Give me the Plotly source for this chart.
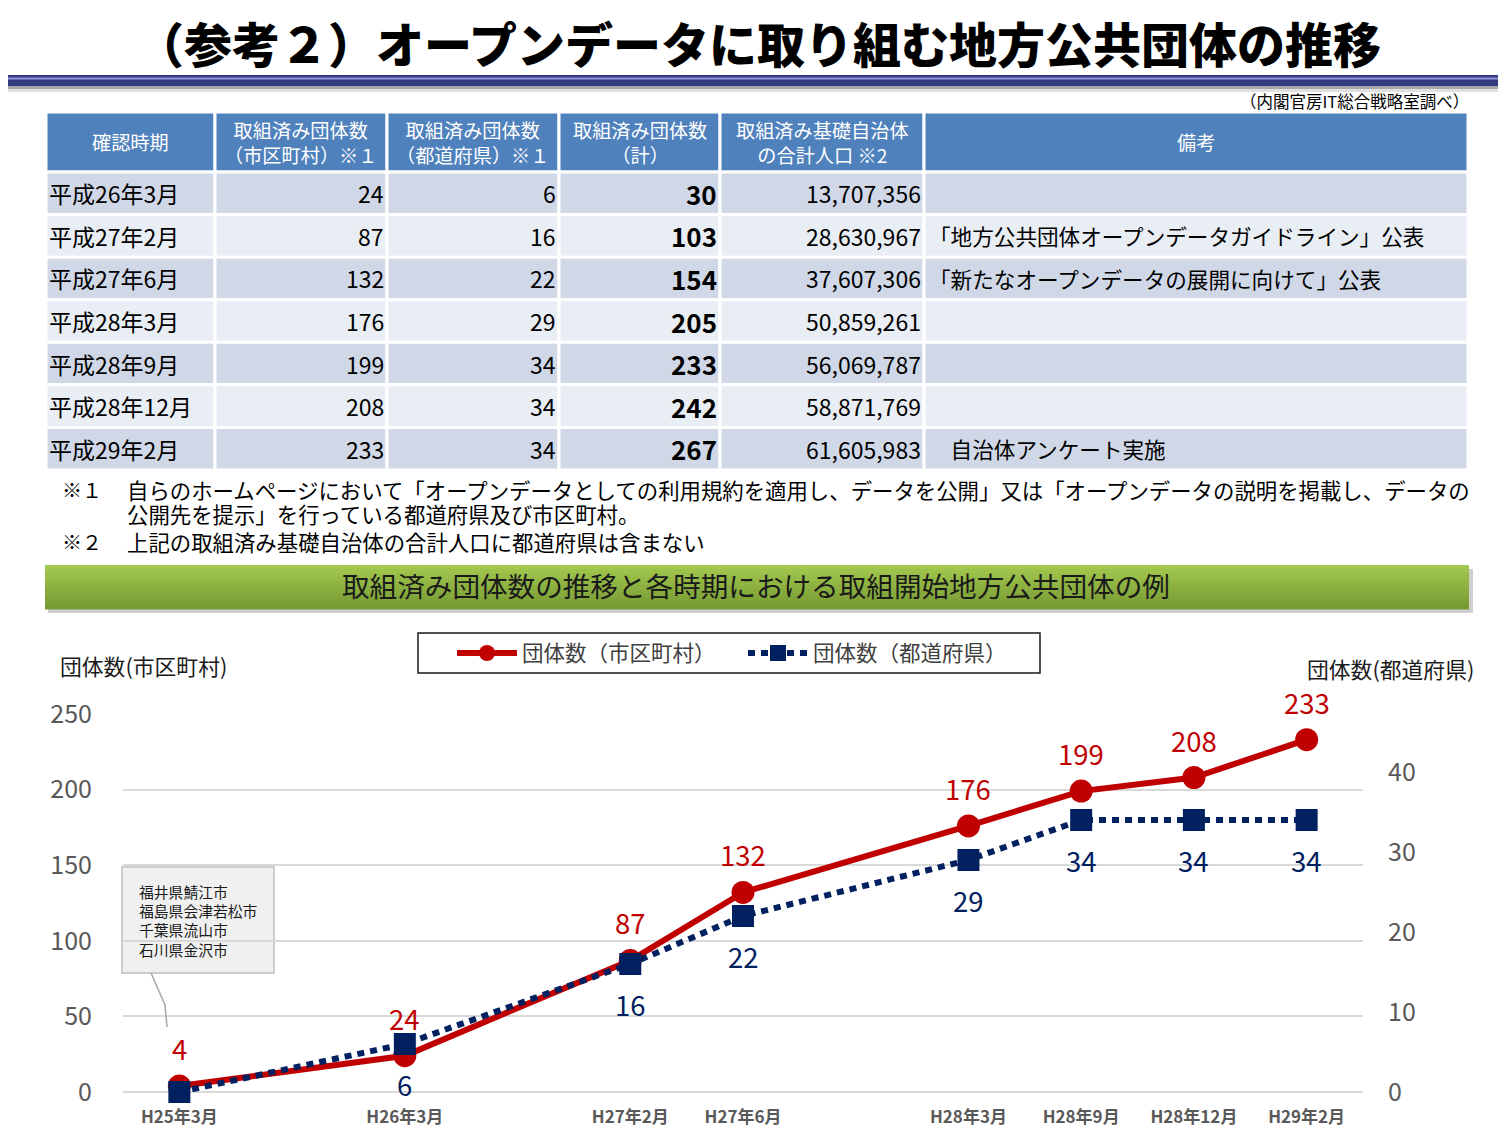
import plotly.graph_objects as go

# The page body adds an 8px offset; figure is sized so that page pixels match the reference.
OFF = 8
FW, FH = 1506 - OFF, 1142 - OFF
def px(x): return (x - OFF) / FW
def py(y): return 1 - (y - OFF) / FH

JP = "Noto Sans CJK JP"

# ---------------- data ----------------
headers = ["確認時期", "取組済み団体数<br>（市区町村）※１", "取組済み団体数<br>（都道府県）※１",
           "取組済み団体数<br>（計）", "取組済み基礎自治体<br>の合計人口 ※2", "備考"]
periods = ["平成26年3月", "平成27年2月", "平成27年6月", "平成28年3月", "平成28年9月", "平成28年12月", "平成29年2月"]
muni_tbl = [24, 87, 132, 176, 199, 208, 233]
pref_tbl = [6, 16, 22, 29, 34, 34, 34]
total_tbl = [30, 103, 154, 205, 233, 242, 267]
population = [13707356, 28630967, 37607306, 50859261, 56069787, 58871769, 61605983]
remarks = ["", "「地方公共団体オープンデータガイドライン」公表", "「新たなオープンデータの展開に向けて」公表",
           "", "", "", "　自治体アンケート実施"]

x_labels = ["H25年3月", "H26年3月", "H27年2月", "H27年6月", "H28年3月", "H28年9月", "H28年12月", "H29年2月"]
x_slots = [0, 2, 4, 5, 7, 8, 9, 10]
muni = [4, 24, 87, 132, 176, 199, 208, 233]
pref = [0, 6, 16, 22, 29, 34, 34, 34]
pref_labels = ["", "6", "16", "22", "29", "34", "34", "34"]
callout_lines = ["福井県鯖江市", "福島県会津若松市", "千葉県流山市", "石川県金沢市"]

RED = "#C00000"
NAVY = "#002060"

# ---------------- styles ----------------
col_w = [169, 172, 172, 161, 204, 544]
HEADER_H = 1.41          # header height in row units
HEAD_FILL = "#4F81BD"
ROW_FILLS = ["#D0D8E8", "#E9EDF4"]
col_font = [23, 23, 23, 26, 23, 21.6]
col_pad = [1, 1, 1, 1, 1, 3]

fig = go.Figure()

shapes = []
annotations = []

# ---------------- table (drawn on hidden axes x3/y3) ----------------
edges = [0]
for w in col_w:
    edges.append(edges[-1] + w)

columns = [periods,
           [str(v) for v in muni_tbl],
           [str(v) for v in pref_tbl],
           ["<b>%d</b>" % v for v in total_tbl],
           [f"{v:,}" for v in population],
           remarks]
aligns = ["left", "right", "right", "right", "right", "left"]

for c in range(len(col_w)):
    e0, e1 = edges[c], edges[c + 1]
    shapes.append(dict(type="rect", xref="x3", yref="y3", x0=e0, x1=e1, y0=-0.5 - HEADER_H, y1=-0.5,
                       fillcolor=HEAD_FILL, line=dict(color="white", width=3), layer="below"))
    annotations.append(dict(x=(e0 + e1) / 2, y=-0.5 - HEADER_H / 2, xref="x3", yref="y3", text=headers[c],
                            showarrow=False, align="center", font=dict(family=JP, size=19.2, color="white")))
    for i, val in enumerate(columns[c]):
        shapes.append(dict(type="rect", xref="x3", yref="y3", x0=e0, x1=e1, y0=i - 0.5, y1=i + 0.5,
                           fillcolor=ROW_FILLS[i % 2], line=dict(color="white", width=3), layer="below"))
        if not val:
            continue
        if aligns[c] == "left":
            xa, xx = "left", e0 + col_pad[c]
        else:
            xa, xx = "right", e1 - col_pad[c]
        annotations.append(dict(x=xx, y=i, xref="x3", yref="y3", xanchor=xa, yanchor="middle", text=val,
                                showarrow=False, font=dict(family=JP, size=col_font[c], color="black")))

# invisible anchor trace for table axes
fig.add_trace(go.Scatter(x=[edges[0], edges[-1]], y=[0, 0], xaxis="x3", yaxis="y3", mode="markers",
                         marker=dict(opacity=0), showlegend=False, hoverinfo="skip"))

# ---------------- chart ----------------
fig.add_trace(go.Scatter(
    x=x_slots, y=muni, name="団体数（市区町村）", mode="lines+markers",
    line=dict(color=RED, width=6), marker=dict(symbol="circle", size=23, color=RED),
    cliponaxis=False, yaxis="y", hoverinfo="skip"))
fig.add_trace(go.Scatter(
    x=x_slots, y=pref, name="団体数（都道府県）", mode="lines+markers",
    line=dict(color=NAVY, width=6, dash="7px,6px"), marker=dict(symbol="square", size=22, color=NAVY),
    cliponaxis=False, yaxis="y2", hoverinfo="skip"))

for xs, v in zip(x_slots, muni):
    annotations.append(dict(x=xs, y=v, xref="x", yref="y", yshift=38, text=str(v), showarrow=False,
                            font=dict(family=JP, size=27.5, color=RED)))
for xs, v, t in zip(x_slots, pref, pref_labels):
    if t:
        annotations.append(dict(x=xs, y=v, xref="x", yref="y2", yshift=-40, text=t, showarrow=False,
                                font=dict(family=JP, size=27.5, color=NAVY)))

# ---------------- page texts ----------------
def txt(x, y, text, size, color="black", xanchor="left", weight=None):
    f = dict(family=JP, size=size, color=color)
    if weight:
        f["weight"] = weight
    annotations.append(dict(x=px(x), y=py(y), xref="paper", yref="paper", text=text, showarrow=False,
                            xanchor=xanchor, yanchor="middle", font=f))

txt(758, 42, "（参考２）オープンデータに取り組む地方公共団体の推移", 48, xanchor="center", weight=900)
txt(1471, 101, "（内閣官房IT総合戦略室調べ）", 16.5, xanchor="right")
txt(60, 490, "※１", 20)
txt(125, 490, "自らのホームページにおいて「オープンデータとしての利用規約を適用し、データを公開」又は「オープンデータの説明を掲載し、データの", 21.4)
txt(125, 514, "公開先を提示」を行っている都道府県及び市区町村。", 21.4)
txt(60, 541, "※２", 20)
txt(125, 541, "上記の取組済み基礎自治体の合計人口に都道府県は含まない", 21.4)
txt(756, 585, "取組済み団体数の推移と各時期における取組開始地方公共団体の例", 27.6, color="#1A1A1A", xanchor="center")
txt(58, 665, "団体数(市区町村)", 21.8, color="#1A1A1A")
txt(1305, 668, "団体数(都道府県)", 21.8, color="#1A1A1A")
txt(1499, 1122, "3", 22)
annotations.append(dict(x=px(137), y=py(879), xref="paper", yref="paper", xanchor="left", yanchor="top",
                        text="<br>".join(callout_lines), showarrow=False, align="left",
                        font=dict(family=JP, size=14.8, color="#1A1A1A")))

# ---------------- decoration shapes ----------------
def rect(x0, y0, x1, y1, fill, line=None, lw=0, layer="below"):
    shapes.append(dict(type="rect", xref="paper", yref="paper", x0=px(x0), x1=px(x1), y0=py(y1), y1=py(y0),
                       fillcolor=fill, line=dict(color=line or fill, width=lw), layer=layer))

# title bar
rect(0, 86, 1506, 89, "#A8A8A8")
rect(0, 89, 1506, 92, "#E0E0E0")
rect(0, 75, 1506, 86, "#343A80")
rect(0, 77.5, 1506, 79.5, "#8E95D6")

# green banner with shadow and gradient
rect(48, 569, 1473, 613, "#CFCFCF")
top = (0xA2, 0xC7, 0x4E); bot = (0x77, 0x9B, 0x33)
n = 11
for i in range(n):
    t = i / (n - 1)
    c = tuple(round(top[k] + (bot[k] - top[k]) * t) for k in range(3))
    y0 = 565 + 44 * i / n
    rect(45, y0, 1469, y0 + 44 / n + 0.6, "#%02X%02X%02X" % c)

# legend frame
rect(418, 633, 1040, 673, "white", line="#1A1A1A", lw=1.5)

# callout box and pointer
rect(122, 867, 274, 973, "#F0F0F0", line="#BFBFBF", lw=1.5)
shapes.append(dict(type="path", xref="paper", yref="paper",
                   path=f"M {px(151)},{py(973)} L {px(165)},{py(1005)} L {px(167)},{py(1027)}",
                   line=dict(color="#A6A6A6", width=1.5)))

fig.update_layout(
    width=FW, height=FH, margin=dict(l=0, r=0, t=0, b=0, autoexpand=False),
    paper_bgcolor="white", plot_bgcolor="white",
    font=dict(family=JP),
    showlegend=True,
    legend=dict(orientation="h", x=px(452), y=py(653), xanchor="left", yanchor="middle",
                borderwidth=0, bgcolor="rgba(0,0,0,0)",
                font=dict(family=JP, size=21.5, color="#404040"),
                itemwidth=60, entrywidth=216, itemsizing="trace", tracegroupgap=0),
    xaxis=dict(domain=[px(123), px(1363)], range=[-0.5, 10.5], tickvals=x_slots, ticktext=x_labels,
               showgrid=False, zeroline=False, showline=False, ticks="", automargin=False,
               tickfont=dict(family=JP, size=17, color="#595959", weight="bold"), ticklabelstandoff=13),
    yaxis=dict(domain=[py(1092), py(714)], range=[0, 250], dtick=50, showgrid=True, automargin=False,
               gridcolor="#D9D9D9", gridwidth=1.5, zeroline=True, zerolinecolor="#D9D9D9", zerolinewidth=1.5,
               ticks="", showline=False, tickfont=dict(family=JP, size=25, color="#595959"),
               ticklabelstandoff=30),
    yaxis2=dict(overlaying="y", side="right", range=[0, 47.25], tickvals=[0, 10, 20, 30, 40],
                showgrid=False, zeroline=False, ticks="", showline=False, automargin=False,
                tickfont=dict(family=JP, size=25, color="#595959"), ticklabelstandoff=24),
    xaxis3=dict(domain=[px(46), px(1468)], range=[0, sum(col_w)], visible=False, anchor="y3",
                automargin=False, fixedrange=True),
    yaxis3=dict(domain=[py(470), py(112)], range=[6.5, -0.5 - HEADER_H], visible=False, anchor="x3",
                automargin=False, fixedrange=True),
    annotations=annotations,
    shapes=shapes,
)

fig.write_html("out.html")
